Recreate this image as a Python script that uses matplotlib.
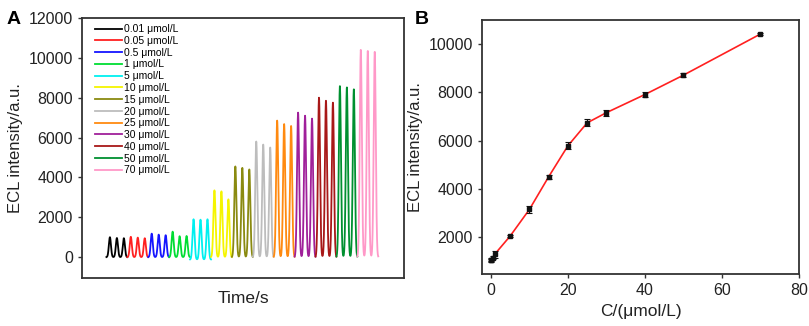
import numpy as np
import matplotlib
matplotlib.use("Agg")
import matplotlib.pyplot as plt

plt.rcParams['font.family'] = ['Liberation Sans', 'DejaVu Sans']

labels = ['0.01 μmol/L', '0.05 μmol/L', '0.5 μmol/L', '1 μmol/L', '5 μmol/L',
          '10 μmol/L', '15 μmol/L', '20 μmol/L', '25 μmol/L', '30 μmol/L',
          '40 μmol/L', '50 μmol/L', '70 μmol/L']
colors = ['#000000', '#ff2020', '#1515ff', '#00dd33', '#00f0f0', '#f5f500',
          '#8a8a10', '#bdbdbd', '#ff8a10', '#a0209a', '#a81818', '#009030', '#ff99c8']
peaks = [
    [1000, 960, 950],
    [1020, 980, 950],
    [1180, 1130, 1100],
    [1280, 1050, 1060],
    [1900, 1880, 1900],
    [3350, 3300, 2900],
    [4550, 4480, 4400],
    [5800, 5650, 5500],
    [6850, 6680, 6580],
    [7250, 7100, 6950],
    [8000, 7850, 7750],
    [8580, 8520, 8420],
    [10400, 10350, 10300],
]
baselines = [0, 0, 0, 0, -120, 0, 0, 0, 0, 0, 0, 0, 0]

conc = [0.01, 0.05, 0.5, 1, 5, 10, 15, 20, 25, 30, 40, 50, 70]
intensity = [1060, 1080, 1150, 1300, 2050, 3150, 4500, 5780, 6730, 7150, 7900, 8700, 10400]
errors = [60, 50, 60, 150, 30, 130, 80, 150, 140, 120, 110, 80, 40]

fig = plt.figure(figsize=(8.09, 3.26), dpi=100)
frame_col = '#333333'

# Panel A
axA = fig.add_axes([0.1014, 0.147, 0.398, 0.798])
sigma = 0.15
for g, (pk, col, lab, base) in enumerate(zip(peaks, colors, labels, baselines)):
    t = np.linspace(3 * g - 0.5, 3 * g + 2.5, 300)
    y = np.full_like(t, float(base))
    for k, h in enumerate(pk):
        c = 3 * g + k
        y += (h - base) * np.exp(-0.5 * ((t - c) / sigma) ** 2)
    axA.plot(t, y, color=col, lw=1.3, label=lab)
axA.set_xlim(-4.0, 42.2)
axA.set_ylim(-1050, 12000)
axA.set_yticks(np.arange(0, 12001, 2000))
axA.set_xticks([])
axA.tick_params(axis='y', labelsize=11.5, length=3, width=1, colors=frame_col, labelcolor='#222222')
axA.set_ylabel('ECL intensity/a.u.', fontsize=12, color='#222222')
axA.set_xlabel('Time/s', fontsize=12.5, color='#222222', labelpad=9)
for s in axA.spines.values():
    s.set_color(frame_col)
    s.set_linewidth(1.3)
leg = axA.legend(loc='upper left', frameon=False, fontsize=7.5, handlelength=2.6,
                 handletextpad=0.2, labelspacing=0.17, borderaxespad=0.2,
                 bbox_to_anchor=(0.02, 1.0))
fig.text(0.008, 0.965, 'A', fontsize=14, fontweight='bold', va='top')

# Panel B
axB = fig.add_axes([0.5958, 0.1595, 0.3918, 0.7792])
axB.plot(conc, intensity, color='#ff2020', lw=1.2, zorder=2)
axB.errorbar(conc, intensity, yerr=errors, fmt='s', color='#111111', ms=2.5,
             capsize=2.5, elinewidth=0.8, capthick=0.8, zorder=3)
axB.set_xlim(-2.3, 80)
axB.set_ylim(484, 10980)
axB.set_xticks(np.arange(0, 81, 20))
axB.set_yticks(np.arange(2000, 10001, 2000))
axB.tick_params(labelsize=11.5, length=3, width=1, colors=frame_col, labelcolor='#222222')
axB.set_ylabel('ECL intensity/a.u.', fontsize=12, color='#222222')
axB.set_xlabel('C/(μmol/L)', fontsize=12.5, color='#222222')
for s in axB.spines.values():
    s.set_color(frame_col)
    s.set_linewidth(1.3)
fig.text(0.513, 0.965, 'B', fontsize=14, fontweight='bold', va='top')

fig.savefig('out.png', dpi=100)
